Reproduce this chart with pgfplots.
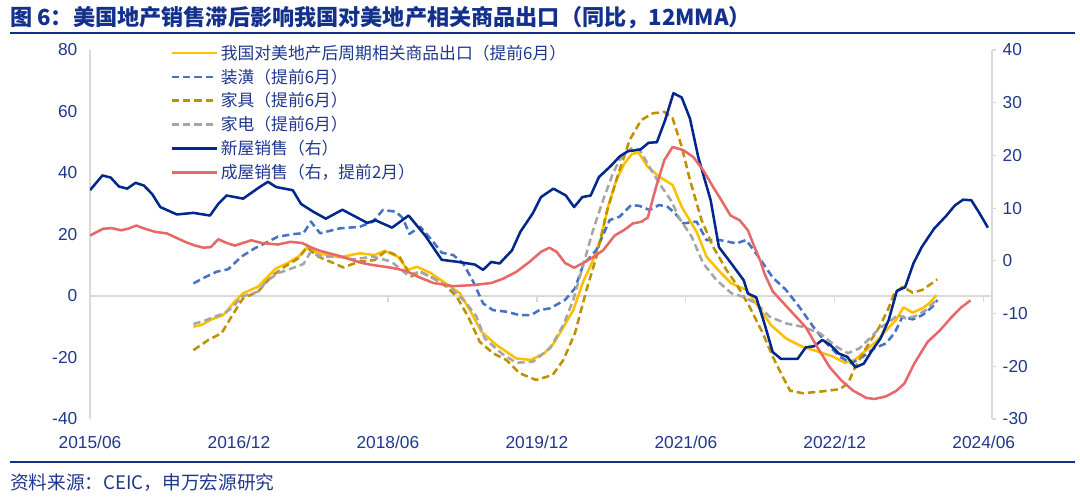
\documentclass[border=0pt]{standalone}
\usepackage{fontspec}
\setmainfont{Liberation Sans}
\newfontfamily\cjk{Noto Sans CJK SC}
\usepackage{pgfplots}
\pgfplotsset{compat=1.18}

\definecolor{navy}{RGB}{0,40,140}
\definecolor{txtblue}{RGB}{31,56,140}
\definecolor{titleblue}{RGB}{18,48,140}
\definecolor{cyel}{RGB}{255,192,0}
\definecolor{cblue}{RGB}{68,114,196}
\definecolor{cgold}{RGB}{191,144,0}
\definecolor{cgray}{RGB}{165,165,165}
\definecolor{cred}{RGB}{232,104,104}
\definecolor{spine}{RGB}{217,217,217}

% left axis series (provided 6 months ahead)
\pgfplotstableread{
m v
12.5 -10.0
13.5 -9.4
14.7 -7.6
16.1 -6.2
17.3 -2.4
18.5 0.9
20.3 3.0
21.3 5.8
22.5 9.0
23.8 10.6
25.2 12.8
26.2 15.8
27.6 13.9
30.2 12.6
32.6 13.9
34.4 13.3
35.6 14.7
37.2 12.8
38.4 8.5
39.5 9.5
41.1 7.6
43.1 3.9
44.7 0.9
45.9 -4.6
47.3 -11.6
49.1 -15.9
51.5 -20.3
53.3 -20.8
54.9 -18.6
56.0 -15.5
57.0 -11.1
58.4 -4.6
59.6 4.7
60.8 11.7
61.8 19.3
62.6 29.0
63.6 37.7
64.6 43.2
65.5 46.2
66.3 46.6
67.4 42.0
68.8 38.8
70.4 36.1
71.5 29.0
73.3 20.9
74.5 12.8
76.1 7.9
77.5 4.1
79.3 2.0
80.9 -4.0
82.3 -9.5
84.1 -13.8
86.1 -16.5
88.0 -18.1
89.8 -19.7
91.2 -21.7
92.4 -20.8
93.8 -17.6
95.2 -14.3
96.6 -10.0
97.4 -7.8
98.3 -3.7
99.4 -5.4
100.6 -4.0
101.4 -2.4
102.3 0.3
}\exports

\pgfplotstableread{
m v
12.5 4.1
13.9 6.1
15.3 7.9
16.7 8.7
18.3 12.8
19.9 15.5
21.1 17.1
22.7 19.3
24.8 20.2
25.8 20.4
26.7 24.2
27.8 20.4
30.2 22.0
32.6 22.5
34.2 24.2
35.4 28.0
37.0 27.4
37.8 25.3
38.6 20.2
39.9 22.5
41.3 18.2
42.5 14.1
43.9 13.3
45.1 10.6
46.3 4.7
47.5 -2.4
48.7 -4.6
50.3 -5.1
51.9 -6.2
53.3 -6.2
54.3 -4.6
55.6 -4.0
57.4 -1.3
58.6 2.5
59.6 10.1
61.2 15.0
62.8 24.7
64.0 25.8
65.4 29.6
66.4 29.3
67.6 28.0
68.8 29.6
69.8 29.0
70.7 26.9
71.7 23.6
73.3 24.2
74.5 18.2
76.1 18.2
78.1 17.1
79.3 18.2
80.9 12.3
82.5 6.0
84.1 2.0
85.7 -3.5
87.4 -10.0
89.0 -15.4
90.6 -19.7
92.0 -21.9
93.4 -19.7
94.8 -17.0
96.2 -15.4
97.2 -12.1
98.2 -6.7
99.4 -7.6
100.6 -6.2
101.8 -3.5
102.4 -1.3
}\decor

\pgfplotstableread{
m v
12.5 -17.6
14.3 -14.3
15.9 -12.1
17.1 -6.7
18.5 -0.7
20.3 1.4
21.9 6.3
23.5 9.5
25.2 12.3
26.2 15.8
27.6 12.8
29.0 11.2
30.6 9.3
32.6 11.2
34.4 11.7
35.8 14.7
37.4 12.8
38.8 6.3
39.9 7.9
41.5 5.8
43.1 3.0
44.3 -0.2
45.7 -6.7
47.1 -14.9
48.7 -18.6
50.3 -20.8
51.9 -25.1
53.9 -27.3
55.9 -25.7
57.2 -20.8
58.6 -12.1
60.0 2.0
61.2 12.8
62.4 26.9
63.6 37.7
65.2 50.7
66.6 57.2
68.0 59.4
69.4 59.9
70.4 57.8
71.5 48.6
72.5 37.7
73.9 24.7
75.3 16.0
76.9 8.5
78.3 3.0
79.7 -3.5
81.3 -12.1
82.5 -19.7
83.7 -26.2
84.6 -30.8
86.1 -31.6
88.2 -31.1
90.6 -30.3
91.6 -28.4
92.4 -23.5
93.4 -18.6
94.4 -14.3
95.4 -10.0
96.4 -4.6
97.2 0.9
98.2 3.0
99.4 1.1
100.6 2.0
102.4 5.4
}\furniture

\pgfplotstableread{
m v
12.5 -9.1
13.9 -8.0
15.1 -6.7
16.3 -5.6
17.3 -3.5
18.3 -0.2
20.3 1.4
21.3 4.7
22.7 7.4
24.4 9.0
25.8 10.4
26.6 14.1
28.0 12.8
30.2 12.8
31.8 11.9
34.2 12.8
36.4 11.2
38.4 6.8
39.9 7.9
41.9 5.2
43.9 2.0
45.5 -2.4
46.7 -6.7
47.7 -13.8
49.7 -18.6
51.5 -21.7
53.5 -21.4
55.6 -17.0
57.2 -9.4
58.4 -1.3
59.6 10.1
60.8 21.5
62.0 31.2
63.2 39.9
64.2 45.3
65.4 48.0
66.4 47.7
67.6 42.0
68.8 36.6
70.3 30.7
71.1 25.8
72.7 19.3
74.1 10.6
75.7 5.2
77.5 0.9
78.9 -0.2
80.5 -2.4
82.1 -6.7
84.1 -8.9
86.1 -10.0
88.2 -12.1
90.2 -16.5
91.6 -18.6
93.0 -17.0
94.2 -13.8
95.4 -10.5
96.6 -8.4
97.6 -6.2
98.6 -7.3
99.8 -6.5
101.0 -4.6
102.3 -1.3
}\appliance

% right axis series
\pgfplotstableread{
m v
0.0 13.4
1.5 16.2
2.5 15.8
3.5 14.1
4.5 13.7
5.5 14.8
6.5 14.3
7.5 12.7
8.5 10.2
10.5 8.8
12.5 9.1
14.5 8.6
15.5 10.8
16.5 12.4
18.5 11.8
20.5 14.0
21.5 15.0
22.5 14.0
24.5 13.4
25.5 10.8
27.0 9.3
28.5 8.0
30.5 9.7
33.5 7.2
34.5 7.7
36.5 6.3
38.5 8.6
40.5 4.8
42.5 0.2
44.5 -0.2
46.5 -0.7
47.5 -1.7
48.5 -0.2
49.5 -0.5
51.0 2.0
52.0 5.5
53.5 9.0
54.5 12.1
56.0 13.7
57.5 12.4
58.5 10.2
59.5 12.1
60.5 12.4
61.5 15.9
63.0 18.1
64.0 19.8
65.0 20.8
66.5 21.1
67.5 22.4
68.5 22.5
69.5 26.7
70.5 31.8
71.5 31.0
72.5 27.0
73.5 19.7
75.0 11.5
76.0 2.6
77.5 -0.5
79.0 -3.7
79.5 -6.2
80.5 -6.9
81.5 -11.9
82.5 -17.3
83.5 -18.6
85.5 -18.6
86.5 -16.4
87.5 -16.2
88.5 -15.0
89.5 -16.0
90.5 -17.6
91.5 -18.2
92.5 -20.2
93.5 -19.5
94.5 -17.0
95.5 -14.8
96.5 -11.3
97.5 -5.7
98.5 -5.0
99.5 -0.5
100.5 2.6
102.0 6.1
103.5 8.6
104.5 10.5
105.5 11.6
106.5 11.5
107.5 9.0
108.5 6.3
}\newhome

\pgfplotstableread{
m v
0.0 4.8
1.6 6.1
2.6 6.2
3.8 5.8
4.6 6.1
5.6 6.7
6.6 6.1
7.9 5.5
9.3 5.2
10.4 4.4
11.5 3.6
12.7 2.9
13.7 2.5
14.6 2.6
15.5 4.1
16.5 3.4
17.5 2.9
19.5 3.9
20.7 3.4
22.7 3.1
24.2 3.6
25.6 3.4
26.8 2.5
27.8 1.9
30.2 0.9
32.6 -0.3
33.8 -0.7
36.4 -1.3
38.2 -1.9
39.6 -3.0
41.5 -4.2
43.9 -4.8
46.3 -4.6
48.5 -4.2
49.9 -3.4
51.5 -2.1
53.1 -0.2
54.5 1.7
55.5 2.5
56.4 1.7
57.4 -0.4
58.5 -1.3
59.6 -0.4
60.8 0.7
62.0 2.0
63.4 4.8
64.6 5.9
65.6 7.1
66.6 7.4
67.4 8.2
68.4 14.0
69.4 19.1
70.4 21.6
71.7 21.0
72.9 19.7
74.1 17.2
75.3 14.0
76.3 11.5
77.4 8.6
78.5 7.7
79.5 5.8
80.3 2.6
81.0 0.0
81.5 -2.4
82.5 -5.8
84.5 -9.2
86.5 -12.6
87.9 -16.4
89.4 -20.2
90.8 -22.7
92.2 -24.6
93.8 -26.0
94.8 -26.2
96.2 -25.7
97.4 -24.7
98.4 -23.3
99.6 -19.5
101.2 -15.4
102.7 -13.2
104.1 -10.7
105.3 -8.8
106.4 -7.5
}\existing

\pgfplotsset{
  base/.style={
    scale only axis, width=676.5pt, height=276.75pt,
    at={(67.5pt,57.75pt)}, anchor=south west,
    xmin=0, xmax=109,
    ticklabel style={font=\fontsize{13}{15}\selectfont, text=txtblue},
    /pgf/number format/assume math mode=true,
    axis line style={spine, line width=1pt, -},
  },
  solidline/.style={line width=1.9pt, line join=round},
  dashline/.style={line width=1.9pt, line join=round, dash pattern=on 5.5pt off 3pt},
}

\begin{document}
\begin{tikzpicture}
\path[use as bounding box] (0,0) rectangle (810pt,372pt);

\node[anchor=west, text=titleblue, font=\cjk\bfseries\fontsize{16.6}{18}\selectfont, inner sep=0pt]
  at (7.5pt,358.5pt) {图 6：美国地产销售滞后影响我国对美地产相关商品出口（同比，12MMA）};
\draw[titleblue, line width=2pt] (7.5pt,347.25pt) -- (806pt,347.25pt);
\draw[titleblue, line width=2pt] (7.5pt,25.5pt) -- (806pt,25.5pt);
\node[anchor=west, text=txtblue, font=\cjk\fontsize{14}{16}\selectfont, inner sep=0pt]
  at (7.5pt,9.75pt) {资料来源：CEIC，申万宏源研究};

\begin{axis}[base,
  ymin=-40, ymax=80, ytick={-40,-20,...,80},
  axis y line*=left, axis x line*=middle,
  hide obscured x ticks=false, hide obscured y ticks=false,
  xtick={0,18,...,108},
  xticklabels={2015/06,2016/12,2018/06,2019/12,2021/06,2022/12,2024/06},
  tick align=outside, major tick length=4.5pt,
  ytick style={draw=none},
  xtick style={spine, line width=1pt},
  yticklabel style={xshift=-1.5pt},
  xticklabel style={yshift=-97pt},
]
\addplot[solidline, cyel] table[x=m, y=v] {\exports};
\addplot[dashline, cblue] table[x=m, y=v] {\decor};
\addplot[dashline, cgold] table[x=m, y=v] {\furniture};
\addplot[dashline, cgray] table[x=m, y=v] {\appliance};
\end{axis}

\begin{axis}[base,
  ymin=-30, ymax=40, ytick={-30,-20,...,40}, xtick=\empty,
  axis y line*=right, axis x line=none,
  tick align=outside, major tick length=3pt,
  ytick style={spine, line width=0.8pt},
  yticklabel style={xshift=1.5pt},
  legend cell align=left,
  legend image code/.code={\draw[#1] (0pt,0pt) -- (34pt,0pt);},
  legend style={at={(0.0887,1.022)}, anchor=north west, draw=none, fill=none,
    font=\cjk\fontsize{12.6}{14}\selectfont, text=txtblue, inner sep=0pt,
    row sep=1.6pt},
]
\addlegendimage{solidline, cyel}
\addlegendentry{我国对美地产后周期相关商品出口（提前6月）}
\addlegendimage{dashline, cblue}
\addlegendentry{装潢（提前6月）}
\addlegendimage{dashline, cgold}
\addlegendentry{家具（提前6月）}
\addlegendimage{dashline, cgray}
\addlegendentry{家电（提前6月）}
\addplot[solidline, navy] table[x=m, y=v] {\newhome};
\addlegendentry{新屋销售（右）}
\addplot[solidline, cred] table[x=m, y=v] {\existing};
\addlegendentry{成屋销售（右，提前2月）}
\end{axis}
\end{tikzpicture}
\end{document}
